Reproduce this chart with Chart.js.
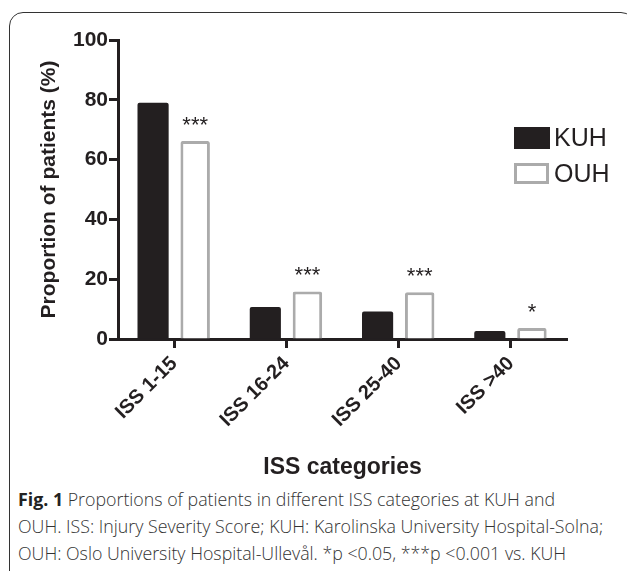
<!DOCTYPE html>
<html>
<head>
<meta charset="utf-8">
<script src="https://cdn.jsdelivr.net/npm/chart.js@4.4.1/dist/chart.umd.min.js"></script>
<style>
  html, body { margin: 0; padding: 0; background: #fff; width: 627px; height: 571px; overflow: hidden; }
  #frame {
    position: absolute; left: 9px; top: 12px; width: 626px; height: 600px;
    border: 1.5px solid #333; border-radius: 14px; box-sizing: border-box;
  }
  #wrap { position: absolute; left: 0; top: 0; width: 627px; height: 485px; }
  #caption {
    position: absolute; left: 18px; top: 486px; width: 610px;
    font-family: "Open Sans", sans-serif; font-size: 17.8px; font-weight: 300; line-height: 27px;
    color: #333; white-space: nowrap;
  }
  #caption b { color: #222; font-weight: 700; }
</style>
</head>
<body>
<div id="frame"></div>
<div id="wrap"><canvas id="issChart"></canvas></div>
<div id="caption">
  <b>Fig. 1</b> Proportions of patients in different ISS categories at KUH and<br>
  OUH. ISS: Injury Severity Score; KUH: Karolinska University Hospital-Solna;<br>
  OUH: Oslo University Hospital-Ullevål. *p &lt;0.05, ***p &lt;0.001 vs. KUH
</div>
<script>
// données
const categories = ['ISS 1-15', 'ISS 16-24', 'ISS 25-40', 'ISS >40'];
const kuhValues = [79, 10.7, 9.2, 2.7];
const ouhValues = [66.2, 15.9, 15.6, 3.7];
const sigMarks = ['***', '***', '***', '*'];
const yTicks = [0, 20, 40, 60, 80, 100];

const INK = '#231f20';
const GREY = '#ababab';

// étoiles au-dessus des barres OUH
const sigPlugin = {
    id: 'sigMarks',
    afterDatasetsDraw(chart) {
        const ctx = chart.ctx;
        const meta = chart.getDatasetMeta(1);
        ctx.save();
        ctx.fillStyle = INK;
        ctx.font = '22px "Liberation Sans", Arial, sans-serif';
        ctx.textAlign = 'center';
        ctx.textBaseline = 'alphabetic';
        meta.data.forEach(function (bar, i) {
            ctx.fillText(sigMarks[i], bar.x, bar.y - 9);
        });
        ctx.restore();
    }
};

// légende dessinée à la main en haut à droite
const legendPlugin = {
    id: 'cornerLegend',
    afterDraw(chart) {
        const ctx = chart.ctx;
        const a = chart.chartArea;
        const x = a.right - 53;
        ctx.save();
        ctx.fillStyle = INK;
        ctx.fillRect(x, a.top + 87, 36, 22);
        ctx.strokeStyle = GREY;
        ctx.lineWidth = 3;
        ctx.strokeRect(x + 1.5, a.top + 124.5, 32, 18);
        ctx.font = '25px "Liberation Sans", Arial, sans-serif';
        ctx.textBaseline = 'middle';
        ctx.fillText(chart.data.datasets[0].label, x + 40, a.top + 99);
        ctx.fillText(chart.data.datasets[1].label, x + 40, a.top + 135);
        ctx.restore();
    }
};

function initIssChart() {
    const ctx = document.getElementById('issChart');
    if (!ctx) return;

    new Chart(ctx, {
        type: 'bar',
        data: {
            labels: categories,
            datasets: [{
                label: 'KUH',
                data: kuhValues,
                backgroundColor: INK,
                borderWidth: 0,
                borderRadius: 2,
                categoryPercentage: 0.75,
                barPercentage: 0.74
            }, {
                label: 'OUH',
                data: ouhValues,
                backgroundColor: '#ffffff',
                borderColor: GREY,
                borderWidth: 3,
                borderRadius: 2,
                categoryPercentage: 0.75,
                barPercentage: 0.70
            }]
        },
        options: {
            responsive: true,
            maintainAspectRatio: false,
            animation: false,
            devicePixelRatio: 1,
            layout: {
                padding: { left: 0, top: 40, right: 60, bottom: 4 }
            },
            plugins: {
                legend: { display: false },
                tooltip: { enabled: false }
            },
            scales: {
                x: {
                    grid: {
                        offset: false,
                        drawOnChartArea: false,
                        drawTicks: true,
                        tickLength: 9,
                        tickWidth: 3,
                        tickColor: INK
                    },
                    border: { display: true, width: 3, color: INK },
                    ticks: {
                        color: INK,
                        font: { family: '"Liberation Sans", Arial, sans-serif', size: 20, weight: 'bold' },
                        minRotation: 45,
                        maxRotation: 45,
                        padding: 4
                    },
                    title: {
                        display: true,
                        text: 'ISS categories',
                        color: INK,
                        font: { family: '"Liberation Sans", Arial, sans-serif', size: 23, weight: 'bold' },
                        padding: 0
                    },
                    afterFit: function (scale) { scale.height = 142; }
                },
                y: {
                    min: 0,
                    max: 100,
                    afterBuildTicks: function (scale) {
                        scale.ticks = yTicks.map(function (v) { return { value: v }; });
                    },
                    grid: {
                        drawOnChartArea: false,
                        tickLength: 9,
                        tickWidth: 3,
                        tickColor: INK
                    },
                    border: { display: true, width: 3, color: INK },
                    ticks: {
                        color: INK,
                        font: { family: '"Liberation Sans", Arial, sans-serif', size: 21, weight: 'bold' },
                        padding: 1
                    },
                    title: {
                        display: true,
                        text: 'Proportion of patients (%)',
                        color: INK,
                        font: { family: '"Liberation Sans", Arial, sans-serif', size: 21, weight: 'bold' },
                        padding: { top: 37, bottom: 0 }
                    },
                    afterFit: function (scale) { scale.width = 118; }
                }
            }
        },
        plugins: [sigPlugin, legendPlugin]
    });
}

if (document.readyState === 'complete') {
    initIssChart();
} else {
    document.addEventListener('DOMContentLoaded', initIssChart);
}
</script>
</body>
</html>
